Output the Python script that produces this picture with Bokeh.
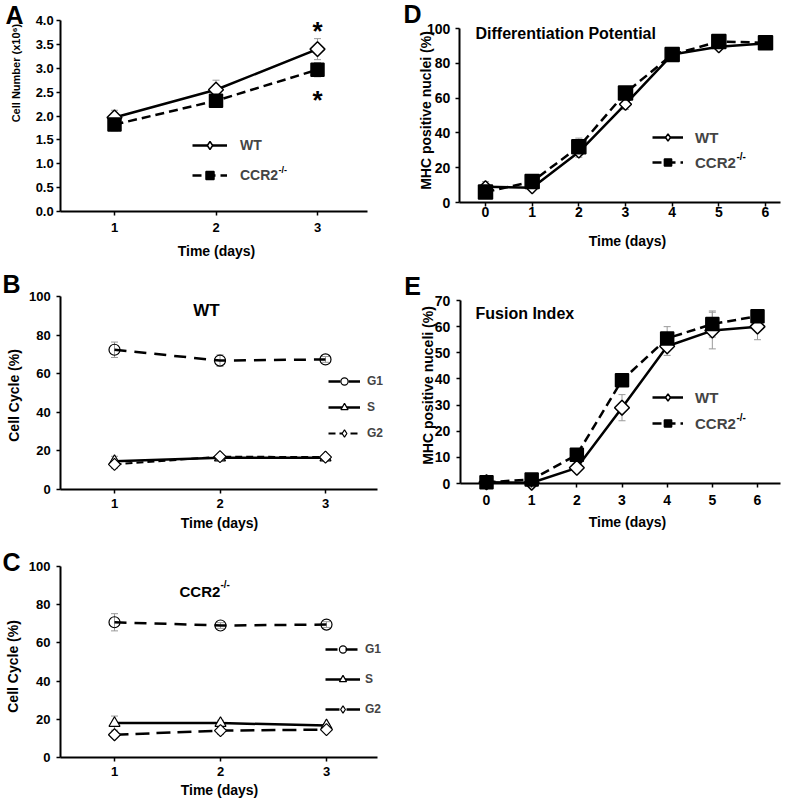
import math
from bokeh.plotting import figure
from bokeh.models import (ColumnDataSource, Whisker, TeeHead, Legend, LegendItem,
                          Label, FixedTicker, Range1d, NumeralTickFormatter)
from bokeh.core.properties import value
from bokeh.layouts import row, column
from bokeh.embed import file_html
from bokeh.resources import INLINE

FONT = "Liberation Sans"
ERR = "#9a9a9a"
ROT = math.pi / 4

# ---------------- data ----------------
# A: cell number (x10^6)
days_a = [1, 2, 3]
cells_wt = [1.97, 2.55, 3.40]
cells_wt_err = [0.15, 0.20, 0.22]
cells_ko = [1.82, 2.32, 2.97]
cells_ko_err = [0.13, 0.10, 0.15]
a_yticks = [0.0, 0.5, 1.0, 1.5, 2.0, 2.5, 3.0, 3.5, 4.0]
star_x = [3, 3]
star_y = [3.85, 2.39]

# B: cell cycle WT (%)
days_bc = [1, 2, 3]
wt_g1 = [72.4, 66.8, 67.4]
wt_g1_err = [4.0, 3.0, 1.5]
wt_s = [14.7, 16.5, 16.5]
wt_s_err = [2.5, 1.0, 1.0]
wt_g2 = [13.0, 17.0, 16.8]
wt_g2_err = [2.0, 1.0, 1.0]

# C: cell cycle CCR2-/- (%)
ko_g1 = [70.8, 69.1, 69.6]
ko_g1_err = [4.5, 1.5, 1.5]
ko_s = [18.0, 18.0, 16.8]
ko_s_err = [3.7, 1.5, 1.0]
ko_g2 = [11.9, 14.1, 14.6]
ko_g2_err = [1.0, 2.0, 1.0]
bc_yticks = [0, 20, 40, 60, 80, 100]

# D: differentiation potential
days_de = [0, 1, 2, 3, 4, 5, 6]
diff_wt = [9.0, 8.5, 29.0, 56.5, 85.0, 89.5, 91.5]
diff_wt_err = [3.0, 1.0, 3.0, 3.0, 1.0, 1.0, 1.0]
diff_ko = [6.0, 12.0, 32.0, 63.0, 85.0, 92.5, 91.8]
diff_ko_err = [2.0, 1.0, 5.0, 1.5, 1.0, 1.0, 1.0]
d_yticks = [0, 20, 40, 60, 80, 100]

# E: fusion index
fus_wt = [0.5, 0.3, 6.0, 29.0, 52.5, 58.5, 60.0]
fus_wt_err = [0.5, 0.3, 1.0, 5.0, 3.5, 7.0, 5.0]
fus_ko = [0.5, 1.5, 11.0, 39.5, 55.5, 61.0, 64.0]
fus_ko_err = [0.5, 0.5, 1.0, 2.0, 4.5, 5.0, 1.0]
e_yticks = [0, 10, 20, 30, 40, 50, 60, 70]


class Panel:
    """A figure whose frame fills its whole canvas; axes are placed inside it."""

    def __init__(self, box, cal_x, cal_y, xbounds, ybounds, xticks, yticks,
                 tick_font, xso, yso, yfmt=None):
        L, T, W, H = box
        self.L, self.T, self.W, self.H = L, T, W, H
        (dx0, px0), (dx1, px1) = cal_x
        kx = (px1 - px0) / (dx1 - dx0)
        x_start = dx0 - (px0 - L) / kx
        x_end = dx0 + (L + W - px0) / kx
        (dy0, py0), (dy1, py1) = cal_y
        ky = (py0 - py1) / (dy1 - dy0)
        y_start = dy0 - (T + H - py0) / ky
        y_end = dy0 + (py0 - T) / ky
        p = figure(x_range=Range1d(x_start, x_end), y_range=Range1d(y_start, y_end),
                   frame_width=W, frame_height=H, min_border=0,
                   min_border_left=0, min_border_right=0,
                   min_border_top=0, min_border_bottom=0,
                   output_backend="svg", toolbar_location=None)
        p.outline_line_color = None
        p.xgrid.visible = False
        p.ygrid.visible = False
        p.background_fill_color = "white"
        p.border_fill_color = "white"
        xa, ya = p.xaxis[0], p.yaxis[0]
        xa.fixed_location = ybounds[0]
        xa.bounds = xbounds
        ya.fixed_location = xbounds[0]
        ya.bounds = ybounds
        for ax, ticks, so in ((xa, xticks, xso), (ya, yticks, yso)):
            ax.ticker = FixedTicker(ticks=ticks, minor_ticks=[])
            ax.axis_line_width = 2
            ax.axis_line_color = "black"
            ax.major_tick_line_width = 1.5
            ax.major_tick_line_color = "black"
            ax.major_tick_out = 4
            ax.major_tick_in = 0
            ax.minor_tick_out = 0
            ax.minor_tick_in = 0
            ax.major_label_text_font = FONT
            ax.major_label_text_font_style = "bold"
            ax.major_label_text_font_size = tick_font
            ax.major_label_text_color = "black"
            ax.major_label_standoff = so
        if yfmt is not None:
            ya.formatter = NumeralTickFormatter(format=yfmt)
        self.p = p

    def series(self, x, y, err, marker, size, dash, lw, fill, angle=0.0, mlw=1.5,
               legend_marker=None):
        p = self.p
        src = ColumnDataSource(dict(x=x, y=y,
                                    upper=[a + b for a, b in zip(y, err)],
                                    lower=[a - b for a, b in zip(y, err)]))
        p.add_layout(Whisker(source=src, base="x", upper="upper", lower="lower",
                             line_color=ERR, line_width=1,
                             upper_head=TeeHead(size=7, line_color=ERR, line_width=1),
                             lower_head=TeeHead(size=7, line_color=ERR, line_width=1)))
        ln = p.line("x", "y", source=src, line_color="black", line_width=lw, line_dash=dash)
        lg = None
        if legend_marker is not None:
            # small upright marker hidden under the (filled) rotated marker;
            # it only provides the legend swatch
            lg = p.scatter("x", "y", source=src, marker=legend_marker, size=size * 0.6,
                           fill_color=fill, line_color="black", line_width=mlw)
        sc = p.scatter("x", "y", source=src, marker=marker, size=size, angle=angle,
                       fill_color=fill, line_color="black", line_width=mlw)
        return [ln, lg if lg is not None else sc]

    def legend(self, items, img_left, img_bottom, gw, gh, standoff, spacing, fsize):
        leg = Legend(items=[LegendItem(label=value(l), renderers=r) for l, r in items],
                     location=(img_left - self.L, self.T + self.H - img_bottom),
                     glyph_width=gw, glyph_height=gh,
                     label_standoff=standoff, spacing=spacing, padding=0, margin=0,
                     border_line_color=None, background_fill_alpha=0,
                     label_text_font=FONT, label_text_font_style="bold",
                     label_text_font_size=fsize, label_height=gh)
        self.p.add_layout(leg)

    def label(self, ix, iy, text, size, angle=0.0, align="center", baseline="middle"):
        self.p.add_layout(Label(x=ix - self.L, y=self.T + self.H - iy,
                                x_units="screen", y_units="screen",
                                text=text, angle=angle, text_align=align,
                                text_baseline=baseline, text_font=FONT,
                                text_font_style="bold", text_font_size=size,
                                text_color="black"))


VERT = math.pi / 2

# ---------------- Panel A ----------------
A = Panel((0, 0, 395, 268), ((1, 114), (3, 317)), ((0, 211), (4, 20)),
          (0.47, 3.49), (0, 4), days_a, a_yticks, "13px", 7, 3, yfmt="0.0")
ra_wt = A.series(days_a, cells_wt, cells_wt_err, "square", 10.5, "solid", 2.5, "white",
                 ROT, legend_marker="diamond")
ra_ko = A.series(days_a, cells_ko, cells_ko_err, "square", 13, "9 5", 2.5, "black")
A.legend([("WT", ra_wt), ("CCR2", ra_ko)], 192, 185, 35, 20, 13, 10, "14px")
A.label(278, 169, "-/-", "9px", align="left")
A.label(15, 71, "Cell Number  (x10\u2076)", "11px", angle=VERT)
A.label(216, 250, "Time (days)", "14px")
A.label(14, 14, "A", "25px")
for sx_, sy_ in zip(star_x, star_y):
    A.p.add_layout(Label(x=sx_, y=sy_, text="*", text_align="center", text_baseline="middle",
                         y_offset=-3, text_font=FONT, text_font_style="bold",
                         text_font_size="26px", text_color="black"))

# ---------------- Panel B ----------------
B = Panel((0, 268, 395, 272), ((1, 114), (3, 325)), ((0, 489), (100, 296)),
          (0.49, 3.49), (0, 100), days_bc, bc_yticks, "13px", 5, 6)
rb_g1 = B.series(days_bc, wt_g1, wt_g1_err, "circle", 11, "12 8", 2.5, None, mlw=1.2)
rb_s = B.series(days_bc, wt_s, wt_s_err, "triangle", 11, "solid", 2.5, "white", mlw=1.2)
rb_g2 = B.series(days_bc, wt_g2, wt_g2_err, "square", 8.5, "7 4", 2.0, "white", ROT,
                 mlw=1.2, legend_marker="diamond")
B.legend([("G1", rb_g1), ("S", rb_s), ("G2", rb_g2)], 328, 442, 32, 18, 7, 8, "12px")
B.label(206, 310, "WT", "17px")
B.label(13, 393, "Cell Cycle  (%)", "14px", angle=VERT)
B.label(219, 522, "Time (days)", "14px")
B.label(11, 283, "B", "25px")

# ---------------- Panel C ----------------
C = Panel((0, 540, 395, 260), ((1, 114), (3, 326)), ((0, 757), (100, 566)),
          (0.49, 3.48), (0, 100), days_bc, bc_yticks, "13px", 5, 6)
rc_g1 = C.series(days_bc, ko_g1, ko_g1_err, "circle", 11, "12 8", 2.5, None, mlw=1.2)
rc_s = C.series(days_bc, ko_s, ko_s_err, "triangle", 11, "solid", 2.5, "white", mlw=1.2)
rc_g2 = C.series(days_bc, ko_g2, ko_g2_err, "square", 8.5, "14 7", 2.5, "white", ROT,
                 mlw=1.2, legend_marker="diamond")
C.legend([("G1", rc_g1), ("S", rc_s), ("G2", rc_g2)], 325, 718, 35, 18, 5, 12, "12px")
C.label(179, 591, "CCR2", "15px", align="left")
C.label(220, 584, "-/-", "10px", align="left")
C.label(12, 664, "Cell Cycle  (%)", "14px", angle=VERT)
C.label(219, 789, "Time (days)", "14px")
C.label(11, 561, "C", "25px")

# ---------------- Panel D ----------------
D = Panel((395, 0, 396, 262), ((0, 485), (6, 765)), ((0, 202), (100, 28)),
          (-0.56, 6.32), (0, 100), days_de, d_yticks, "14px", 0, 5)
rd_wt = D.series(days_de, diff_wt, diff_wt_err, "square", 8.5, "solid", 2.5, "white", ROT,
                 legend_marker="diamond")
rd_ko = D.series(days_de, diff_ko, diff_ko_err, "square", 14, "9 5", 2.5, "black")
D.legend([("WT", rd_wt), ("CCR2", rd_ko)], 652, 171, 31, 18, 12, 7, "15px")
D.label(736, 156, "-/-", "10px", align="left")
D.label(475, 33, "Differentiation Potential", "16px", align="left")
D.label(425, 110, "MHC positive nuclei (%)", "14px", angle=VERT)
D.label(627, 240, "Time (days)", "14px")
D.label(412, 13, "D", "25px")

# ---------------- Panel E ----------------
E = Panel((395, 262, 396, 268), ((0, 486), (6, 757)), ((0, 483), (70, 300)),
          (-0.58, 6.51), (0, 70), days_de, e_yticks, "14px", 7, 6)
re_wt = E.series(days_de, fus_wt, fus_wt_err, "square", 10.5, "solid", 2.5, "white", ROT,
                 legend_marker="diamond")
re_ko = E.series(days_de, fus_ko, fus_ko_err, "square", 13, "9 5", 2.5, "black")
E.legend([("WT", re_wt), ("CCR2", re_ko)], 652, 432, 31, 18, 12, 8, "15px")
E.label(736, 417, "-/-", "10px", align="left")
E.label(475, 313, "Fusion Index", "16px", align="left")
E.label(427, 385, "MHC positive nuceli (%)", "14px", angle=VERT)
E.label(627, 521, "Time (days)", "14px")
E.label(412, 285, "E", "25px")

layout = row(column(A.p, B.p, C.p), column(D.p, E.p))
open("out.html", "w").write(file_html(layout, INLINE))
